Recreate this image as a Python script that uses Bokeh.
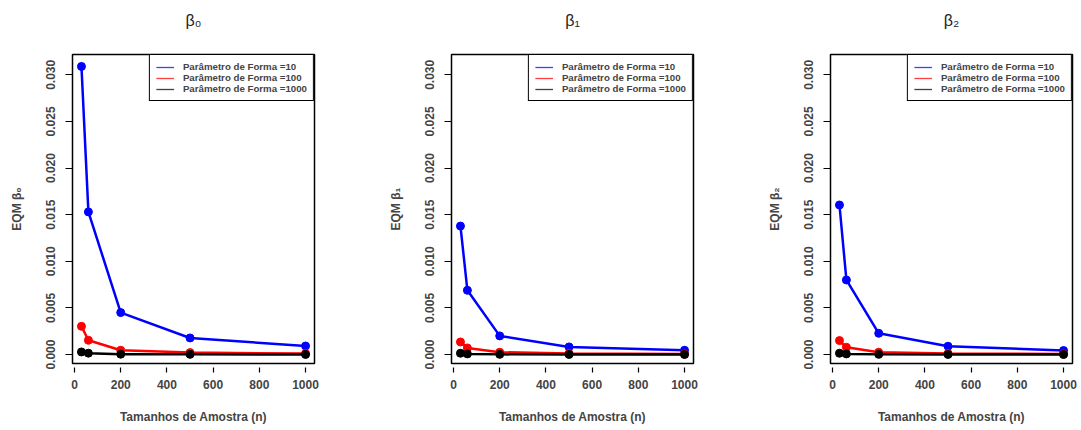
from bokeh.plotting import figure
from bokeh.layouts import row
from bokeh.models import FixedTicker, PrintfTickFormatter, Range1d, Legend, LegendItem, Title
from bokeh.embed import file_html
from bokeh.resources import INLINE

n = [30, 60, 200, 500, 1000]
titles = ["β₀", "β₁", "β₂"]
ylabels = ["EQM β₀", "EQM β₁", "EQM β₂"]
series_names = ["Parâmetro de Forma =10", "Parâmetro de Forma =100", "Parâmetro de Forma =1000"]
colors = ["#0000FF", "#FF0000", "#000000"]

b0_f10 = [0.0309, 0.0153, 0.0045, 0.00178, 0.00092]
b0_f100 = [0.00303, 0.00153, 0.00046, 0.00021, 0.00010]
b0_f1000 = [0.00028, 0.00015, 0.00004, 0.00002, 0.00001]

b1_f10 = [0.01378, 0.00689, 0.00200, 0.00082, 0.00046]
b1_f100 = [0.00135, 0.00071, 0.00025, 0.00012, 0.00006]
b1_f1000 = [0.00014, 0.00007, 0.00002, 0.00001, 0.000005]

b2_f10 = [0.01604, 0.00800, 0.00228, 0.00089, 0.00043]
b2_f100 = [0.00150, 0.00078, 0.00025, 0.00012, 0.00006]
b2_f1000 = [0.00014, 0.00007, 0.00002, 0.00001, 0.000005]

panels = [[b0_f10, b0_f100, b0_f1000], [b1_f10, b1_f100, b1_f1000], [b2_f10, b2_f100, b2_f1000]]

FONT = "Liberation Sans"
widths = [379, 379, 323]
HEIGHT = 428
FRAME_W, FRAME_H = 242, 309
figs = []
for i in range(3):
    p = figure(width=widths[i], height=HEIGHT, output_backend="svg", toolbar_location=None,
               x_range=Range1d(-8.8, 1038.8), y_range=Range1d(-0.00096, 0.03218),
               min_border_left=72, min_border_right=widths[i] - 72 - FRAME_W,
               min_border_top=54, min_border_bottom=HEIGHT - 54 - FRAME_H)
    p.xgrid.visible = False
    p.ygrid.visible = False
    p.outline_line_color = "black"
    p.outline_line_width = 1.5
    p.background_fill_color = "white"
    p.border_fill_color = "white"

    # spacer (nearest to the frame) then the visible title above it
    p.add_layout(Title(text=" ", text_font_size="2px", standoff=22), "above")
    p.add_layout(Title(text=titles[i], align="center", text_font=FONT,
                       text_font_style="normal", text_font_size="16px",
                       text_color="#222222", standoff=0), "above")

    items = []
    for vals, col, name in zip(panels[i], colors, series_names):
        p.line(n, vals, line_color=col, line_width=2.5)
        p.scatter(n, vals, size=8, fill_color=col, line_color=col)
        key = p.line([n[0]], [vals[0]], line_color=col, line_width=1.3, line_alpha=0.75)
        items.append(LegendItem(label=name, renderers=[key]))
    leg = Legend(items=items, location="top_right")
    leg.label_text_font = FONT
    leg.label_text_font_style = "bold"
    leg.label_text_font_size = "9.7px"
    leg.glyph_width = 18
    leg.glyph_height = 10
    leg.label_height = 10
    leg.spacing = 0
    leg.padding = 6
    leg.margin = 0
    leg.label_standoff = 9
    leg.border_line_color = "black"
    leg.border_line_width = 1
    leg.border_line_alpha = 1
    leg.background_fill_alpha = 1
    p.add_layout(leg, "center")

    xa = p.xaxis[0]
    xa.ticker = FixedTicker(ticks=[0, 200, 400, 600, 800, 1000])
    xa.axis_label = "Tamanhos de Amostra (n)"
    xa.axis_line_color = None
    xa.major_tick_in = -4
    xa.major_tick_out = 9
    xa.minor_tick_line_color = None
    xa.major_tick_line_width = 1.2
    xa.major_label_text_font = FONT
    xa.major_label_text_font_style = "bold"
    xa.major_label_text_font_size = "12px"
    xa.major_label_standoff = 7
    xa.axis_label_text_font = FONT
    xa.axis_label_text_font_style = "bold"
    xa.axis_label_text_font_size = "12px"
    xa.axis_label_standoff = 18

    ya = p.yaxis[0]
    ya.ticker = FixedTicker(ticks=[0, 0.005, 0.010, 0.015, 0.020, 0.025, 0.030])
    ya.formatter = PrintfTickFormatter(format="%.3f")
    ya.axis_label = ylabels[i]
    ya.axis_line_color = None
    ya.major_tick_in = 0
    ya.major_tick_out = 7
    ya.minor_tick_line_color = None
    ya.major_tick_line_width = 1.2
    ya.major_label_orientation = "vertical"
    ya.major_label_text_font = FONT
    ya.major_label_text_font_style = "bold"
    ya.major_label_text_font_size = "12px"
    ya.major_label_standoff = 10
    ya.axis_label_text_font = FONT
    ya.axis_label_text_font_style = "bold"
    ya.axis_label_text_font_size = "12px"
    ya.axis_label_standoff = 20
    figs.append(p)

layout = row(*figs)
open("out.html", "w").write(file_html(layout, INLINE))
